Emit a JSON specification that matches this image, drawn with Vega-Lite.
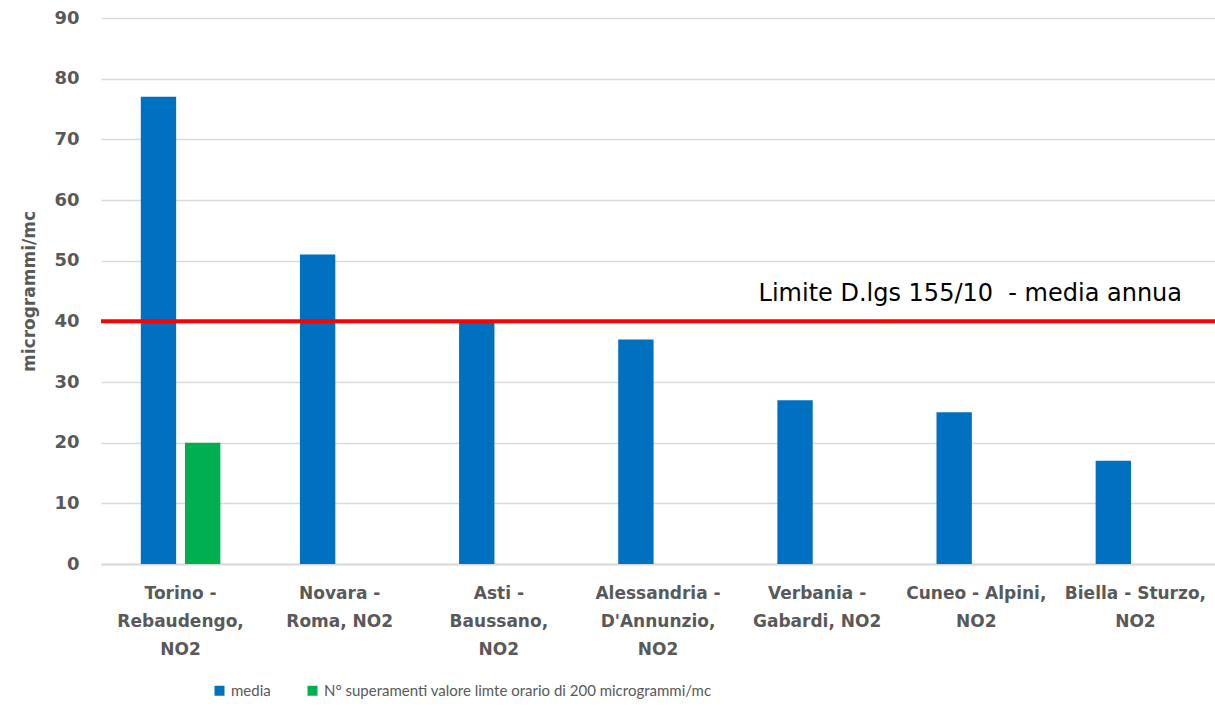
{
  "$schema": "https://vega.github.io/schema/vega-lite/v6.json",
  "autosize": "none",
  "width": 1114,
  "height": 546,
  "padding": {"left": 101, "top": 18, "right": 0, "bottom": 148},
  "background": "white",
  "config": {"view": {"stroke": null}, "font": "DejaVu Sans"},
  "datasets": {
    "bars": [
      {"stazione": "Torino -|Rebaudengo,|NO2", "serie": "media", "valore": 77},
      {"stazione": "Torino -|Rebaudengo,|NO2", "serie": "N° superamenti valore limte orario di 200 microgrammi/mc", "valore": 20},
      {"stazione": "Novara -|Roma, NO2", "serie": "media", "valore": 51},
      {"stazione": "Novara -|Roma, NO2", "serie": "N° superamenti valore limte orario di 200 microgrammi/mc", "valore": 0},
      {"stazione": "Asti -|Baussano,|NO2", "serie": "media", "valore": 40},
      {"stazione": "Asti -|Baussano,|NO2", "serie": "N° superamenti valore limte orario di 200 microgrammi/mc", "valore": 0},
      {"stazione": "Alessandria -|D'Annunzio,|NO2", "serie": "media", "valore": 37},
      {"stazione": "Alessandria -|D'Annunzio,|NO2", "serie": "N° superamenti valore limte orario di 200 microgrammi/mc", "valore": 0},
      {"stazione": "Verbania -|Gabardi, NO2", "serie": "media", "valore": 27},
      {"stazione": "Verbania -|Gabardi, NO2", "serie": "N° superamenti valore limte orario di 200 microgrammi/mc", "valore": 0},
      {"stazione": "Cuneo - Alpini,|NO2", "serie": "media", "valore": 25},
      {"stazione": "Cuneo - Alpini,|NO2", "serie": "N° superamenti valore limte orario di 200 microgrammi/mc", "valore": 0},
      {"stazione": "Biella - Sturzo,|NO2", "serie": "media", "valore": 17},
      {"stazione": "Biella - Sturzo,|NO2", "serie": "N° superamenti valore limte orario di 200 microgrammi/mc", "valore": 0}
    ],
    "limite": [{"valore": 40, "testo": "Limite D.lgs 155/10\u00a0 - media annua", "stazione": "Cuneo - Alpini,|NO2"}]
  },
  "layer": [
    {
      "data": {"name": "bars"},
      "mark": {"type": "bar"},
      "encoding": {
        "x": {
          "field": "stazione", "type": "nominal",
          "scale": {
            "domain": ["Torino -|Rebaudengo,|NO2", "Novara -|Roma, NO2", "Asti -|Baussano,|NO2", "Alessandria -|D'Annunzio,|NO2", "Verbania -|Gabardi, NO2", "Cuneo - Alpini,|NO2", "Biella - Sturzo,|NO2"],
            "paddingInner": 0.5, "paddingOuter": 0.25
          },
          "axis": {
            "title": null, "labelAngle": 0, "ticks": false,
            "domainColor": "#d9d9d9", "domainWidth": 2,
            "labelExpr": "split(datum.label, '|')",
            "labelFont": "DejaVu Sans", "labelFontSize": 17, "labelFontWeight": "bold",
            "labelColor": "#595959", "labelPadding": 21, "labelLineHeight": 28,
            "labelBaseline": "top", "labelLimit": 300
          }
        },
        "xOffset": {
          "field": "serie", "type": "nominal", "sort": ["media"],
          "scale": {"paddingInner": 0.2, "paddingOuter": 0}
        },
        "y": {
          "field": "valore", "type": "quantitative",
          "scale": {"domain": [0, 90], "nice": false},
          "axis": {
            "title": "microgrammi/mc", "values": [0, 10, 20, 30, 40, 50, 60, 70, 80, 90],
            "ticks": false, "domain": false, "gridColor": "#d9d9d9", "gridWidth": 1.5,
            "labelFont": "DejaVu Sans", "labelFontSize": 18, "labelFontWeight": "bold",
            "labelColor": "#595959", "labelPadding": 22,
            "titleFont": "DejaVu Sans", "titleFontSize": 17, "titleFontWeight": "bold",
            "titleColor": "#595959", "titlePadding": 15
          }
        },
        "color": {
          "field": "serie", "type": "nominal", "sort": ["media"],
          "scale": {"domain": ["media", "N° superamenti valore limte orario di 200 microgrammi/mc"], "range": ["#0070C0", "#00B050"]},
          "legend": {
            "title": null, "orient": "none", "legendX": 111, "legendY": 665,
            "direction": "horizontal", "columns": 2, "columnPadding": 34,
            "symbolType": "square", "symbolSize": 100, "symbolStrokeWidth": 0,
            "labelFont": "Lato", "labelFontSize": 15, "labelColor": "#595959", "labelLimit": 600,
            "labelOffset": 4
          }
        }
      }
    },
    {
      "data": {"name": "limite"},
      "mark": {"type": "rule", "color": "#FF0000", "strokeWidth": 4},
      "encoding": {"y": {"field": "valore", "type": "quantitative"}}
    },
    {
      "data": {"name": "limite"},
      "mark": {"type": "text", "font": "DejaVu Sans", "fontSize": 24, "color": "#000000", "align": "center", "baseline": "alphabetic", "dx": -6, "dy": -20},
      "encoding": {
        "x": {"field": "stazione", "type": "nominal"},
        "y": {"field": "valore", "type": "quantitative"},
        "text": {"field": "testo"}
      }
    }
  ]
}
